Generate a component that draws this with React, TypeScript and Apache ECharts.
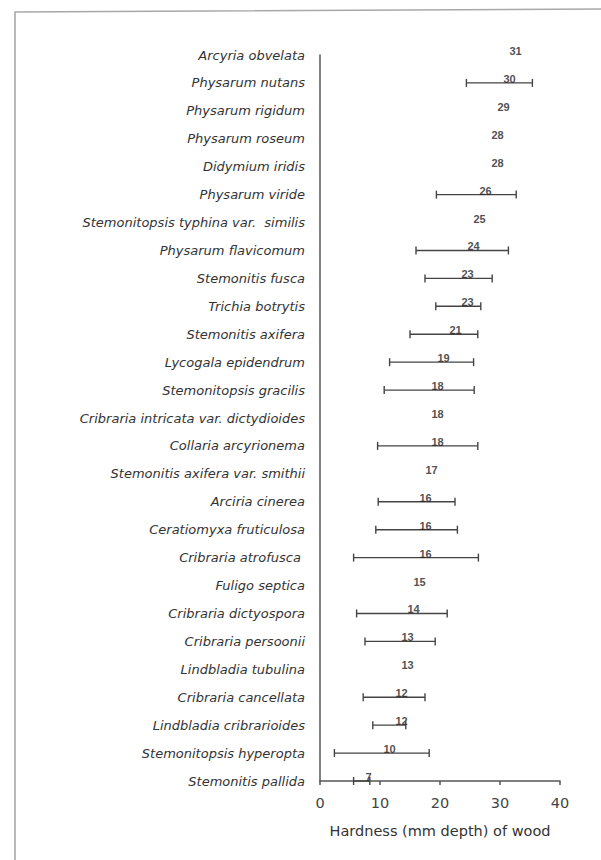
import React, { useEffect, useRef } from "react";
import * as echarts from "echarts";

// Myxomycete species, top to bottom
const species = [
  "Arcyria obvelata",
  "Physarum nutans",
  "Physarum rigidum",
  "Physarum roseum",
  "Didymium iridis",
  "Physarum viride",
  "Stemonitopsis typhina var.  similis",
  "Physarum flavicomum",
  "Stemonitis fusca",
  "Trichia botrytis",
  "Stemonitis axifera",
  "Lycogala epidendrum",
  "Stemonitopsis gracilis",
  "Cribraria intricata var. dictydioides",
  "Collaria arcyrionema",
  "Stemonitis axifera var. smithii",
  "Arciria cinerea",
  "Ceratiomyxa fruticulosa",
  "Cribraria atrofusca ",
  "Fuligo septica",
  "Cribraria dictyospora",
  "Cribraria persoonii",
  "Lindbladia tubulina",
  "Cribraria cancellata",
  "Lindbladia cribrarioides",
  "Stemonitopsis hyperopta",
  "Stemonitis pallida",
];

// Mean hardness (mm depth) of wood
const means = [31, 30, 29, 28, 28, 26, 25, 24, 23, 23, 21, 19, 18, 18, 18, 17, 16, 16, 16, 15, 14, 13, 13, 12, 12, 10, 7];

// Range ends (null where only one record)
const lows = [null, 24.4, null, null, null, 19.4, null, 16.0, 17.5, 19.3, 15.0, 11.6, 10.7, null, 9.6, null, 9.7, 9.3, 5.6, null, 6.1, 7.5, null, 7.2, 8.8, 2.4, 5.6];
const highs = [null, 35.4, null, null, null, 32.7, null, 31.4, 28.7, 26.8, 26.3, 25.6, 25.7, null, 26.3, null, 22.5, 22.9, 26.4, null, 21.2, 19.2, null, 17.5, 14.3, 18.2, 8.3];

const xTicks = [0, 10, 20, 30, 40];
const xTitle = "Hardness (mm depth) of wood";

export default function App() {
  const ref = useRef<HTMLDivElement>(null);

  useEffect(() => {
    if (!ref.current) return;
    const chart = echarts.init(ref.current, null, { renderer: "svg" });

    const rangeData: any[] = [];
    lows.forEach((lo, i) => {
      const hi = highs[i];
      if (lo != null && hi != null) rangeData.push([lo, hi, i]);
    });

    const stroke = "#444";
    const sans = "DejaVu Sans, Verdana, sans-serif";

    chart.setOption({
      animation: false,
      backgroundColor: "#ffffff",
      graphic: [
        {
          type: "polyline",
          shape: { points: [[15, 860], [15, 12], [601, 9]] },
          style: { stroke: "#a8a8a8", lineWidth: 1.6, fill: "none" },
          silent: true,
        },
      ],
      grid: { left: 320, right: 41, top: 55, bottom: 79, containLabel: false },
      xAxis: {
        type: "value",
        min: xTicks[0],
        max: xTicks[xTicks.length - 1],
        interval: 10,
        splitLine: { show: false },
        axisLine: { show: true, lineStyle: { color: "#555", width: 1.5 } },
        axisTick: { show: true, length: 4, lineStyle: { color: "#555", width: 1.5 } },
        axisLabel: {
          fontFamily: sans,
          fontSize: 14.5,
          color: "#444",
          margin: 14,
        },
        name: xTitle,
        nameLocation: "middle",
        nameGap: 42,
        nameTextStyle: {
          fontFamily: sans,
          fontSize: 14.5,
          color: "#333",
        },
      },
      yAxis: {
        type: "category",
        data: species,
        inverse: true,
        boundaryGap: false,
        axisLine: { show: true, lineStyle: { color: "#555", width: 1.5 } },
        axisTick: { show: false },
        splitLine: { show: false },
        axisLabel: {
          interval: 0,
          fontFamily: sans,
          fontStyle: "italic",
          fontSize: 13,
          color: "#333",
          margin: 15,
          padding: [5, 0, 0, 0],
        },
      },
      series: [
        {
          type: "custom",
          data: rangeData,
          encode: { x: [0, 1], y: 2 },
          renderItem: (_params: any, api: any) => {
            const idx = api.value(2);
            const p1 = api.coord([api.value(0), idx]);
            const p2 = api.coord([api.value(1), idx]);
            const h = 4;
            const style = { stroke, lineWidth: 1.4 };
            return {
              type: "group",
              children: [
                { type: "line", shape: { x1: p1[0], y1: p1[1], x2: p2[0], y2: p2[1] }, style },
                { type: "line", shape: { x1: p1[0], y1: p1[1] - h, x2: p1[0], y2: p1[1] + h }, style },
                { type: "line", shape: { x1: p2[0], y1: p2[1] - h, x2: p2[0], y2: p2[1] + h }, style },
              ],
            };
          },
          z: 2,
        },
        {
          type: "scatter",
          data: means.map((v, i) => [v, i]),
          symbolSize: 1,
          itemStyle: { color: "rgba(0,0,0,0)" },
          label: {
            show: true,
            position: "right",
            distance: 3,
            offset: [0, -4],
            formatter: (p: any) => String(p.value[0]),
            fontFamily: "Liberation Sans, Arial, sans-serif",
            fontSize: 11,
            fontWeight: "bold",
            color: "#222",
          },
          z: 3,
        },
      ],
    });

    return () => chart.dispose();
  }, []);

  return (
    <div
      ref={ref}
      style={{ position: "fixed", left: 0, top: 0, width: 601, height: 860, background: "#fff" }}
    />
  );
}
